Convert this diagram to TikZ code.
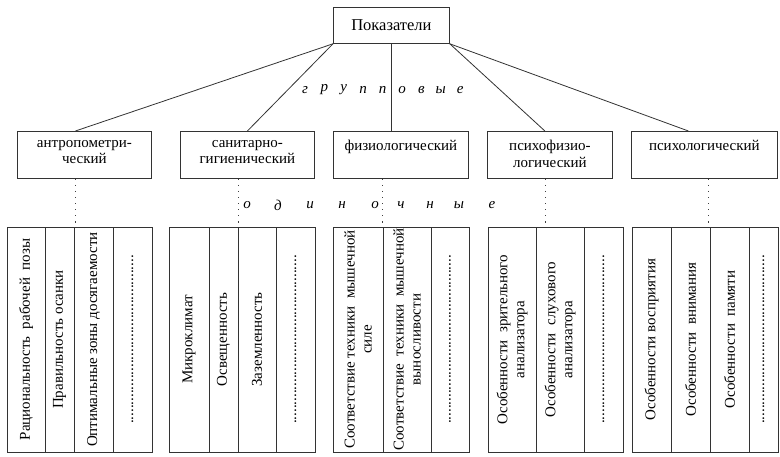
\documentclass[tikz,border=0pt]{standalone}
\usepackage{fontspec}
\setmainfont{Liberation Serif}
\begin{document}
\begin{tikzpicture}[x=1pt,y=-1pt,
  ln/.style={draw=black!80,line width=0.8pt},
  box/.style={ln,rectangle,inner sep=0pt,anchor=north west,align=center,font=\fontsize{15}{16}\selectfont},
  boxtext/.style={anchor=north,font=\fontsize{15}{16.5}\selectfont,align=center,inner sep=0pt},
  col/.style={ln,rectangle,inner sep=0pt,rotate=90,minimum width=225pt,align=center,font=\fontsize{15}{17}\selectfont},
  dotline/.style={draw=black!75,line width=1.1pt,dash pattern=on 1.1pt off 5pt},
  spaced/.style={font=\fontsize{15}{16}\selectfont\itshape,inner sep=0pt}
]
\useasboundingbox (0,0) rectangle (780,457);
\newcommand{\dotsrow}{.............................................}
% top
\node[box,minimum width=116pt,minimum height=36pt,font=\fontsize{16.5}{18}\selectfont] (top) at (333,7) {Показатели};
% level 2 (text near top)
\node[box,minimum width=134pt,minimum height=47pt] (a) at (17,131) {};
\node[boxtext] (at) at ([yshift=-9pt]a.north) {антропометри-\\ческий};
\node[box,minimum width=134pt,minimum height=47pt] (b) at (180,131) {};
\node[boxtext] (bt) at ([yshift=-9pt]b.north) {санитарно-\\гигиенический};
\node[box,minimum width=135pt,minimum height=47pt] (c) at (333,131) {};
\node[boxtext] (ct) at ([yshift=-9pt]c.north) {физиологический};
\node[box,minimum width=125pt,minimum height=47pt] (d) at (487,131) {};
\node[boxtext] (dt) at ([yshift=-9pt]d.north) {психофизио-\\логический};
\node[box,minimum width=146pt,minimum height=47pt] (e) at (631,131) {};
\node[boxtext] (et) at ([yshift=-9pt]e.north) {психологический};
% connectors
\draw[ln] (top.south west) -- ([xshift=-9pt]a.north);
\draw[ln] (top.south west) -- (b.north);
\draw[ln] (top.south) -- (top.south |- c.north);
\draw[ln] (top.south east) -- ([xshift=-5pt]d.north);
\draw[ln] (top.south east) -- ([xshift=-16pt]e.north);
% group letters
\foreach \l [count=\i] in {г,р,у,п,п,о,в,ы,е}
  \node[spaced] (gr\i) at (305+19.4*\i-19.4,90) {\l};
\foreach \l/\px [count=\i] in {о/247,д/278,и/310,н/342,о/375,ч/401,н/430,ы/459,е/492}
  \node[spaced] (od\i) at (\px,205) {\l};
% columns group 1
\node[col,minimum height=38pt] (a1) at (26,339.5) {Рациональность\ \ рабочей\ \ позы};
\node[col,minimum height=29pt] (a2) at (59.5,339.5) {Правильность осанки};
\node[col,minimum height=39pt] (a3) at (93.5,339.5) {Оптимальные зоны досягаемости};
\node[col,minimum height=39pt] (a4) at (132.5,339.5) {\dotsrow};
% group 2
\node[col,minimum height=40pt] (b1) at (189,339.5) {Микроклимат};
\node[col,minimum height=29pt] (b2) at (223.5,339.5) {Освещенность};
\node[col,minimum height=38pt] (b3) at (257,339.5) {Заземленность};
\node[col,minimum height=39pt] (b4) at (295.5,339.5) {\dotsrow};
% group 3
\node[col,minimum height=50pt] (c1) at (358,339.5) {Соответствие техники\ \ мышечной\\силе};
\node[col,minimum height=48pt] (c2) at (407,339.5) {Соответствие\ \ техники\ \ мышечной\\выносливости};
\node[col,minimum height=38pt] (c3) at (450,339.5) {\dotsrow};
% group 4
\node[col,minimum height=48pt] (d1) at (512,339.5) {Особенности\ \ зрительного\\анализатора};
\node[col,minimum height=48pt] (d2) at (560,339.5) {Особенности\ \ слухового\\анализатора};
\node[col,minimum height=39pt] (d3) at (603.5,339.5) {\dotsrow};
% group 5
\node[col,minimum height=39pt] (e1) at (651.5,339.5) {Особенности восприятия};
\node[col,minimum height=39pt] (e2) at (690.5,339.5) {Особенности\ \ внимания};
\node[col,minimum height=39pt] (e3) at (729.5,339.5) {Особенности\ \ памяти};
\node[col,minimum height=29pt] (e4) at (763.5,339.5) {\dotsrow};
% dotted links
\draw[dotline] ([xshift=-9pt]a.south) -- ([xshift=-9pt]a.south |- a3.east);
\draw[dotline] ([xshift=-9pt]b.south) -- ([xshift=-9pt]b.south |- b3.east);
\draw[dotline] ([xshift=-18.5pt]c.south) -- ([xshift=-18.5pt]c.south |- c2.east);
\draw[dotline] ([xshift=-4.5pt]d.south) -- ([xshift=-4.5pt]d.south |- d2.east);
\draw[dotline] ([xshift=4pt]e.south) -- ([xshift=4pt]e.south |- e3.east);
\end{tikzpicture}
\end{document}
